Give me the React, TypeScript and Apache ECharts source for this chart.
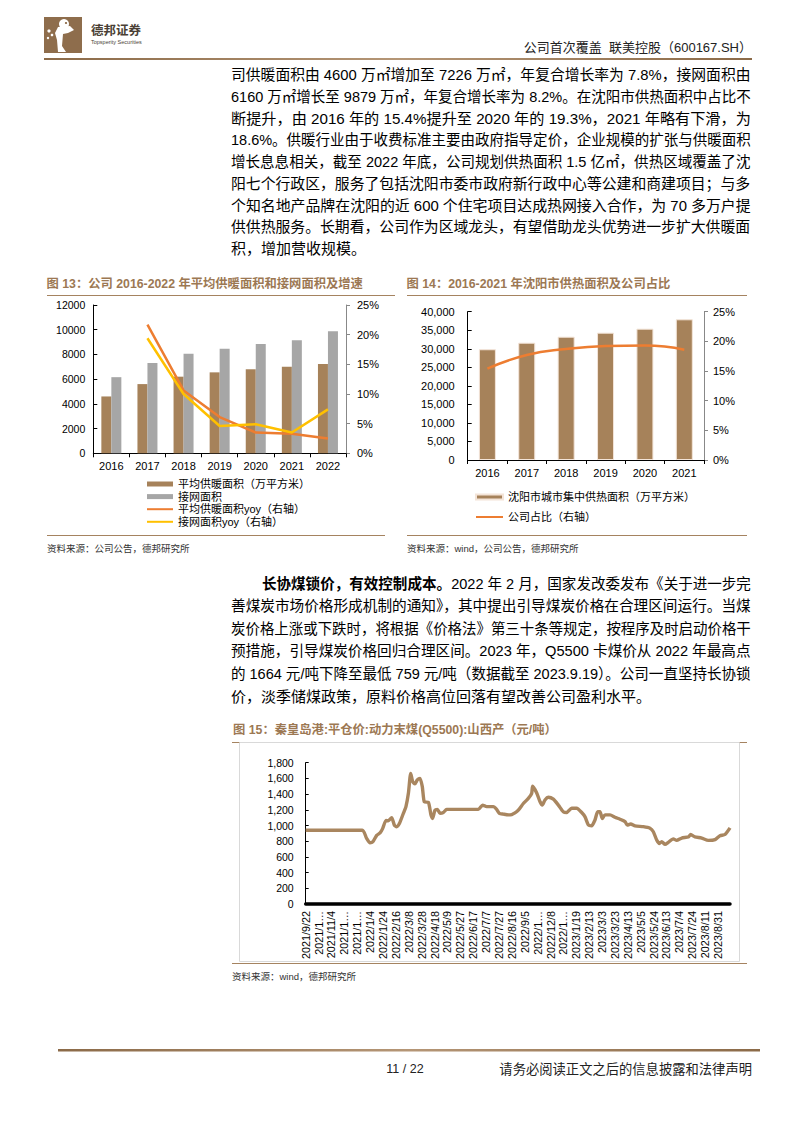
import React, { useEffect, useRef } from 'react';
import * as echarts from 'echarts';

const FONT = '"Liberation Sans", "Noto Sans CJK SC", sans-serif';

// ---- Figure 13 data ----
const years13 = ['2016', '2017', '2018', '2019', '2020', '2021', '2022'];
const heatingArea = [4600, 5600, 6200, 6550, 6800, 7000, 7226];
const networkArea = [6160, 7300, 8050, 8450, 8850, 9150, 9879];
const heatingYoy = [null, 0.217, 0.106, 0.061, 0.035, 0.033, 0.025];
const networkYoy = [null, 0.194, 0.1, 0.046, 0.049, 0.035, 0.074];

// ---- Figure 14 data ----
const years14 = ['2016', '2017', '2018', '2019', '2020', '2021'];
const shenyangArea = [29870, 31640, 33260, 34340, 35420, 37950];
const companyShare = [0.154, 0.177, 0.187, 0.192, 0.193, 0.186];

// ---- Figure 15 data ----
const dateLabels = [
  '2021/9/22', '2021/10/15', '2021/11/4', '2021/11/24', '2021/12/14', '2022/1/4', '2022/1/24',
  '2022/2/16', '2022/3/8', '2022/3/28', '2022/4/18', '2022/5/9', '2022/5/27', '2022/6/17',
  '2022/7/7', '2022/7/27', '2022/8/16', '2022/9/5', '2022/11/18', '2022/12/8', '2022/12/28',
  '2023/1/19', '2023/2/13', '2023/3/3', '2023/3/23', '2023/4/13', '2023/5/5', '2023/5/24',
  '2023/6/13', '2023/7/4', '2023/7/24', '2023/8/11', '2023/8/31',
];
const lastIndex = 32.93;
// [position in label steps, price 元/吨]
const coalPrice: [number, number][] = [
  [0, 940], [4.4, 940], [4.73, 835], [4.99, 780], [5.2, 790], [5.51, 875], [5.77, 905], [5.97, 960],
  [6.23, 1065], [6.41, 1060], [6.67, 1100], [6.88, 1005], [7.06, 985], [7.27, 1025], [7.58, 1155],
  [7.78, 1240], [7.97, 1410], [8.15, 1664], [8.3, 1560], [8.48, 1530], [8.66, 1580], [8.87, 1600],
  [9.05, 1495], [9.21, 1300], [9.52, 1295], [9.72, 1135], [9.85, 1090], [10.03, 1195], [10.22, 1205],
  [10.42, 1155], [10.68, 1165], [10.94, 1205], [13.4, 1205], [13.73, 1260], [14.04, 1240],
  [14.56, 1240], [14.82, 1205], [15.03, 1155], [15.34, 1145], [15.73, 1135], [15.99, 1140],
  [16.24, 1160], [16.5, 1195], [16.89, 1280], [17.28, 1345], [17.54, 1410], [17.61, 1500],
  [17.93, 1415], [18.18, 1305], [18.36, 1260], [18.57, 1325], [18.83, 1360], [19.22, 1335],
  [19.61, 1260], [19.99, 1175], [20.25, 1165], [20.64, 1220], [21.03, 1220], [21.42, 1165],
  [21.68, 1110], [21.94, 1005], [22.19, 995], [22.45, 1070], [22.66, 1175], [22.84, 1175],
  [23.02, 1090], [23.23, 1135], [23.62, 1135], [24.0, 1105], [24.39, 1080], [24.78, 1050],
  [24.96, 1005], [25.22, 1020], [25.56, 995], [26.2, 985], [26.72, 965], [26.98, 920], [27.24, 815],
  [27.45, 770], [27.63, 795], [27.89, 759], [28.14, 785], [28.53, 830], [28.79, 810], [29.18, 840],
  [29.7, 855], [29.88, 885], [30.21, 855], [30.73, 840], [31.25, 810], [31.77, 820], [32.15, 870],
  [32.54, 885], [32.93, 970],
];

// ---- Text ----
const para1 = [
  '司供暖面积由 4600 万㎡增加至 7226 万㎡，年复合增长率为 7.8%，接网面积由',
  '6160 万㎡增长至 9879 万㎡，年复合增长率为 8.2%。在沈阳市供热面积中占比不',
  '断提升，由 2016 年的 15.4%提升至 2020 年的 19.3%，2021 年略有下滑，为',
  '18.6%。供暖行业由于收费标准主要由政府指导定价，企业规模的扩张与供暖面积',
  '增长息息相关，截至 2022 年底，公司规划供热面积 1.5 亿㎡，供热区域覆盖了沈',
  '阳七个行政区，服务了包括沈阳市委市政府新行政中心等公建和商建项目；与多',
  '个知名地产品牌在沈阳的近 600 个住宅项目达成热网接入合作，为 70 多万户提',
  '供供热服务。长期看，公司作为区域龙头，有望借助龙头优势进一步扩大供暖面',
  '积，增加营收规模。',
];
const para2Bold = '长协煤锁价，有效控制成本。';
const para2 = [
  '2022 年 2 月，国家发改委发布《关于进一步完',
  '善煤炭市场价格形成机制的通知》，其中提出引导煤炭价格在合理区间运行。当煤',
  '炭价格上涨或下跌时，将根据《价格法》第三十条等规定，按程序及时启动价格干',
  '预措施，引导煤炭价格回归合理区间。2023 年，Q5500 卡煤价从 2022 年最高点',
  '的 1664 元/吨下降至最低 759 元/吨（数据截至 2023.9.19）。公司一直坚持长协锁',
  '价，淡季储煤政策，原料价格高位回落有望改善公司盈利水平。',
];

const BROWN = '#A6825A';
const TITLE_BROWN = '#9C7853';
const RULE_BROWN = '#A58360';

export default function App() {
  const ref = useRef<HTMLDivElement>(null);

  useEffect(() => {
    const chart = echarts.init(ref.current!, null, { renderer: 'svg' });
    const ctx = document.createElement('canvas').getContext('2d')!;
    const measure = (t: string, size: number, weight = 'normal') => {
      ctx.font = `${weight} ${size}px ${FONT}`;
      return ctx.measureText(t).width;
    };
    const PS = 15;
    const RIGHT = 751;
    const clampScale = (s: number) => Math.max(0.9, Math.min(1.1, s));

    const g: any[] = [];
    const txt = (x: number, y: number, text: string, o: any = {}) =>
      g.push({
        type: 'text', x, y,
        style: {
          text, fontSize: o.size || 12, fontFamily: FONT, fontWeight: o.weight || 'normal',
          fill: o.color || '#000', textAlign: o.align || 'left', textVerticalAlign: 'middle',
        },
      });
    const hline = (x1: number, x2: number, y: number, color: string, w = 1) =>
      g.push({ type: 'line', shape: { x1, y1: y, x2, y2: y }, style: { stroke: color, lineWidth: w } });

    // header logo
    g.push({ type: 'rect', shape: { x: 44, y: 17, width: 38, height: 36 }, style: { fill: '#8E6D4C' } });
    g.push({ type: 'circle', shape: { cx: 64, cy: 24, r: 5 }, style: { fill: '#fff' } });
    g.push({ type: 'polygon', shape: { points: [[58, 27], [70, 26], [74, 30], [68, 33], [63, 34], [62, 46], [66, 52], [58, 52], [57, 40], [55, 33]] }, style: { fill: '#fff' } });
    g.push({ type: 'circle', shape: { cx: 49, cy: 31, r: 1.6 }, style: { fill: '#fff' } });
    g.push({ type: 'circle', shape: { cx: 52, cy: 35, r: 1.3 }, style: { fill: '#fff' } });
    g.push({ type: 'circle', shape: { cx: 48, cy: 38, r: 1.2 }, style: { fill: '#fff' } });
    g.push({ type: 'circle', shape: { cx: 66, cy: 23, r: 1.1 }, style: { fill: '#8E6D4C' } });
    txt(91, 31, '德邦证券', { size: 12.5, weight: 'bold', color: '#4A3F35' });
    txt(91, 42, 'Topsperity Securities', { size: 5.5, color: '#4A3F35' });
    txt(752, 47, '公司首次覆盖  联美控股（600167.SH）', { size: 13, align: 'right', color: '#222' });
    g.push({
      type: 'rect', shape: { x: 44, y: 58, width: 708, height: 2 },
      style: { fill: new echarts.graphic.LinearGradient(0, 0, 1, 0, [
        { offset: 0, color: '#8B6A48' }, { offset: 0.5, color: '#B59676' }, { offset: 1, color: '#8B6A48' }]) },
    });

    // paragraph 1
    para1.forEach((t, i) => {
      const last = i === para1.length - 1;
      const left = 231;
      const s = last ? 1 : clampScale((RIGHT - left) / measure(t, PS));
      g.push({
        type: 'text', x: left, y: 75 + 21.67 * i, scaleX: s,
        style: { text: t, fontSize: PS, fontFamily: FONT, fill: '#000', textAlign: 'left', textVerticalAlign: 'middle' },
      });
    });

    // paragraph 2
    para2.forEach((t, i) => {
      const last = i === para2.length - 1;
      const left = i === 0 ? 262 : 231;
      const w = i === 0 ? measure(para2Bold, PS, 'bold') + measure(t, PS) : measure(t, PS);
      const s = last ? 1 : clampScale((RIGHT - left) / w);
      const style: any = { fontSize: PS, fontFamily: FONT, fill: '#000', textAlign: 'left', textVerticalAlign: 'middle' };
      if (i === 0) {
        style.text = `{b|${para2Bold}}${t}`;
        style.rich = { b: { fontWeight: 'bold', fontSize: PS, fontFamily: FONT, fill: '#000' } };
      } else style.text = t;
      g.push({ type: 'text', x: left, y: 584 + 22.4 * i, scaleX: s, style });
    });

    // figure titles & rules
    txt(46.5, 284, '图 13：公司 2016-2022 年平均供暖面积和接网面积及增速', { size: 12.3, weight: 'bold', color: TITLE_BROWN });
    hline(47, 395, 295.5, RULE_BROWN);
    hline(47, 385, 535.5, RULE_BROWN);
    txt(47, 548, '资料来源：公司公告，德邦研究所', { size: 9.5, color: '#333' });

    txt(406.5, 284, '图 14：2016-2021 年沈阳市供热面积及公司占比', { size: 12.3, weight: 'bold', color: TITLE_BROWN });
    hline(407, 747, 295.5, RULE_BROWN);
    hline(407, 747, 535.5, RULE_BROWN);
    txt(407, 548, '资料来源：wind，公司公告，德邦研究所', { size: 9.5, color: '#333' });

    txt(233, 730, '图 15：秦皇岛港:平仓价:动力末煤(Q5500):山西产（元/吨）', { size: 12.3, weight: 'bold', color: TITLE_BROWN });
    hline(232, 747, 742.5, RULE_BROWN);
    g.push({ type: 'rect', shape: { x: 239.5, y: 742.5, width: 500, height: 219 }, style: { fill: 'none', stroke: '#D9D9D9', lineWidth: 1 } });
    hline(232, 747, 963.5, RULE_BROWN);
    txt(232, 976, '资料来源：wind，德邦研究所', { size: 9.5, color: '#333' });

    // footer
    g.push({
      type: 'rect', shape: { x: 58, y: 1049, width: 702, height: 2.5 },
      style: { fill: new echarts.graphic.LinearGradient(0, 0, 1, 0, [
        { offset: 0, color: '#8B6A48' }, { offset: 0.5, color: '#B59676' }, { offset: 1, color: '#8B6A48' }]) },
    });
    txt(405, 1069, '11 / 22', { size: 12.5, align: 'center', color: '#222' });
    txt(752, 1069, '请务必阅读正文之后的信息披露和法律声明', { size: 13.3, align: 'right', color: '#222' });

    const labelBase = { color: '#000', fontFamily: FONT };
    const pct = (v: number) => `${Math.round(v * 100)}%`;
    const commas = (v: number) => v.toLocaleString('en-US');
    const hiddenSymbol = { opacity: 0, borderWidth: 0 };

    const option: any = {
      animation: false,
      backgroundColor: '#fff',
      grid: [
        { left: 93.3, top: 305, width: 252.7, height: 148.3, containLabel: false, outerBoundsMode: 'none' },
        { left: 467.7, top: 311.7, width: 236.3, height: 148.3, containLabel: false, outerBoundsMode: 'none' },
        { left: 305.7, top: 762.7, width: 424.3, height: 141.3, containLabel: false, outerBoundsMode: 'none' },
      ],
      xAxis: [
        {
          gridIndex: 0, type: 'category', data: years13,
          axisLine: { lineStyle: { color: '#000', width: 1 } },
          axisTick: { show: true, length: 4, lineStyle: { color: '#000' } },
          axisLabel: { ...labelBase, fontSize: 11, margin: 7 },
          splitLine: { show: false },
        },
        {
          gridIndex: 1, type: 'category', data: years14,
          axisLine: { lineStyle: { color: '#000', width: 1 } },
          axisTick: { show: true, length: 4, lineStyle: { color: '#000' } },
          axisLabel: { ...labelBase, fontSize: 11, margin: 7.5 },
          splitLine: { show: false },
        },
        {
          gridIndex: 2, type: 'value', min: 0, max: lastIndex, interval: 1,
          axisLine: { lineStyle: { color: '#000', width: 3.5 } },
          axisTick: { show: false },
          splitLine: { show: false },
          axisLabel: {
            ...labelBase, fontSize: 10.8, rotate: 90, margin: 7, showMaxLabel: false,
            formatter: (v: number) => {
              const i = Math.round(v);
              if (Math.abs(v - i) > 1e-6 || !dateLabels[i]) return '';
              const s = dateLabels[i];
              return s.length > 9 ? s.slice(0, 6) + '…' : s;
            },
          },
        },
      ],
      yAxis: [
        {
          gridIndex: 0, type: 'value', min: 0, max: 12000, interval: 2000,
          axisLine: { show: true, lineStyle: { color: '#000' } },
          axisTick: { show: true, inside: true, length: 4, lineStyle: { color: '#000' } },
          axisLabel: { ...labelBase, fontSize: 10.5, margin: 8, formatter: (v: number) => String(v) },
          splitLine: { show: false },
        },
        {
          gridIndex: 0, type: 'value', position: 'right', min: 0, max: 0.25, interval: 0.05,
          axisLine: { show: true, lineStyle: { color: '#888' } },
          axisTick: { show: true, length: 4, lineStyle: { color: '#888' } },
          axisLabel: { ...labelBase, fontSize: 11, margin: 11, formatter: pct },
          splitLine: { show: false },
        },
        {
          gridIndex: 1, type: 'value', min: 0, max: 40000, interval: 5000,
          axisLine: { show: true, lineStyle: { color: '#000' } },
          axisTick: { show: true, inside: true, length: 4, lineStyle: { color: '#000' } },
          axisLabel: { ...labelBase, fontSize: 11, margin: 13, formatter: commas },
          splitLine: { show: false },
        },
        {
          gridIndex: 1, type: 'value', position: 'right', min: 0, max: 0.25, interval: 0.05,
          axisLine: { show: true, lineStyle: { color: '#888' } },
          axisTick: { show: true, length: 4, lineStyle: { color: '#888' } },
          axisLabel: { ...labelBase, fontSize: 11, margin: 9, formatter: pct },
          splitLine: { show: false },
        },
        {
          gridIndex: 2, type: 'value', min: 0, max: 1800, interval: 200,
          axisLine: { show: true, lineStyle: { color: '#000' } },
          axisTick: { show: true, inside: true, length: 3, lineStyle: { color: '#000' } },
          axisLabel: { ...labelBase, fontSize: 10.5, margin: 12, formatter: commas },
          splitLine: { show: false },
        },
      ],
      legend: [
        {
          left: 146, top: 478, orient: 'vertical', padding: 0, itemWidth: 26, itemHeight: 5, itemGap: 0.6,
          selectedMode: false,
          textStyle: { fontSize: 11, lineHeight: 12, color: '#000', fontFamily: FONT },
          data: [
            { name: '平均供暖面积（万平方米）', icon: 'rect' },
            { name: '接网面积', icon: 'rect' },
            { name: '平均供暖面积yoy（右轴）', itemStyle: hiddenSymbol },
            { name: '接网面积yoy（右轴）', itemStyle: hiddenSymbol },
          ],
        },
        {
          left: 475, top: 491, orient: 'vertical', padding: 0, itemWidth: 27, itemHeight: 5, itemGap: 8,
          selectedMode: false,
          textStyle: { fontSize: 11, lineHeight: 12, color: '#000', fontFamily: FONT },
          data: [
            { name: '沈阳市城市集中供热面积（万平方米）', icon: 'rect' },
            { name: '公司占比（右轴）', itemStyle: hiddenSymbol },
          ],
        },
      ],
      series: [
        {
          name: '平均供暖面积（万平方米）', type: 'bar', xAxisIndex: 0, yAxisIndex: 0, data: heatingArea,
          barWidth: 10, barGap: '0%', itemStyle: { color: BROWN },
        },
        {
          name: '接网面积', type: 'bar', xAxisIndex: 0, yAxisIndex: 0, data: networkArea,
          barWidth: 10, barGap: '0%', itemStyle: { color: '#A6A6A6' },
        },
        {
          name: '平均供暖面积yoy（右轴）', type: 'line', xAxisIndex: 0, yAxisIndex: 1, data: heatingYoy,
          symbol: 'none', lineStyle: { color: '#ED7D31', width: 2.5 }, itemStyle: { color: '#ED7D31' },
        },
        {
          name: '接网面积yoy（右轴）', type: 'line', xAxisIndex: 0, yAxisIndex: 1, data: networkYoy,
          symbol: 'none', lineStyle: { color: '#FFC000', width: 2.5 }, itemStyle: { color: '#FFC000' },
        },
        {
          name: '沈阳市城市集中供热面积（万平方米）', type: 'bar', xAxisIndex: 1, yAxisIndex: 2, data: shenyangArea,
          barWidth: 17, itemStyle: { color: BROWN, borderColor: '#F3E4D8', borderWidth: 1 },
        },
        {
          name: '公司占比（右轴）', type: 'line', xAxisIndex: 1, yAxisIndex: 3, data: companyShare,
          smooth: true, symbol: 'none', lineStyle: { color: '#ED7D31', width: 2.5 }, itemStyle: { color: '#ED7D31' },
        },
        {
          name: '秦皇岛港:平仓价:动力末煤(Q5500):山西产', type: 'line', xAxisIndex: 2, yAxisIndex: 4,
          data: coalPrice, symbol: 'none', smooth: 0.2,
          lineStyle: { color: '#A9865F', width: 3.4 }, itemStyle: { color: '#A9865F' },
        },
      ],
      graphic: { elements: g },
    };
    chart.setOption(option);
    return () => chart.dispose();
  }, []);

  return (
    <div
      ref={ref}
      style={{ position: 'absolute', left: 0, top: 0, width: 794, height: 1123, background: '#fff' }}
    />
  );
}
